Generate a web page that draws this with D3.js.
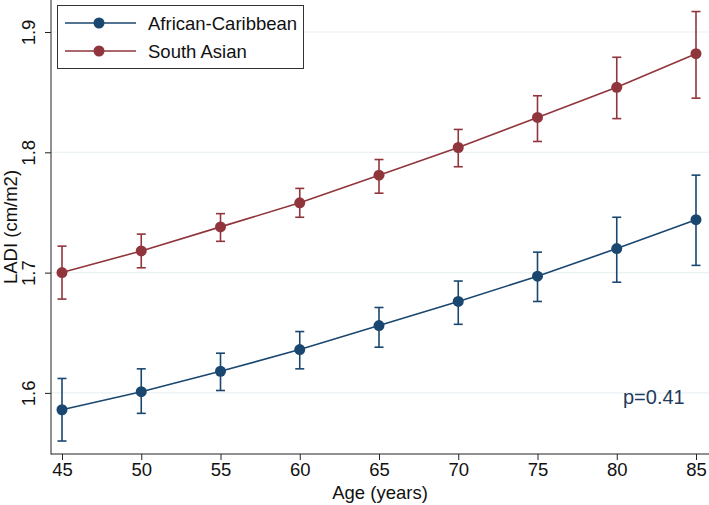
<!DOCTYPE html>
<html>
<head>
<meta charset="utf-8">
<script src="https://cdn.jsdelivr.net/npm/d3@7"></script>
<style>
  html, body { margin: 0; padding: 0; background: #fff; }
  svg { display: block; font-family: "Liberation Sans", Arial, Helvetica, sans-serif; }
</style>
</head>
<body>
<svg id="chart" width="709" height="505"></svg>
<script>
const ages = [45, 50, 55, 60, 65, 70, 75, 80, 85];
const seriesNames = ["African-Caribbean", "South Asian"];
const acMean = [1.586, 1.601, 1.618, 1.636, 1.656, 1.676, 1.697, 1.720, 1.744];
const acLow  = [1.560, 1.583, 1.602, 1.620, 1.638, 1.657, 1.676, 1.692, 1.706];
const acHigh = [1.612, 1.620, 1.633, 1.651, 1.671, 1.693, 1.717, 1.746, 1.781];
const saMean = [1.700, 1.718, 1.738, 1.758, 1.781, 1.804, 1.829, 1.854, 1.882];
const saLow  = [1.678, 1.704, 1.726, 1.746, 1.766, 1.788, 1.809, 1.828, 1.845];
const saHigh = [1.722, 1.732, 1.749, 1.770, 1.794, 1.819, 1.847, 1.879, 1.917];
const yTicks = [1.6, 1.7, 1.8, 1.9];
const xTicks = [45, 50, 55, 60, 65, 70, 75, 80, 85];
const colors = ["#1a476f", "#90353b"];
const annotation = "p=0.41";

const svg = d3.select("#chart");
const W = 709, H = 505;
const left = 51, bottom = 454;
const fs = 18.5;

const x = d3.scaleLinear().domain([45, 85]).range([62, 696]);
const y = d3.scaleLinear().domain([1.6, 1.9]).range([392.9, 32]);

// gridlines
svg.append("g").selectAll("line").data(yTicks).join("line")
  .attr("x1", left).attr("x2", W)
  .attr("y1", d => y(d)).attr("y2", d => y(d))
  .attr("stroke", "#eaf2f3").attr("stroke-width", 1.2);

// axes
const yAxis = svg.append("g").attr("transform", `translate(${left},0)`)
  .call(d3.axisLeft(y).tickValues(yTicks).tickSize(6).tickFormat(d3.format(".1f")));
yAxis.select(".domain").remove();
yAxis.selectAll(".tick line").attr("stroke", "#222");
yAxis.selectAll(".tick text")
  .attr("font-size", fs).attr("fill", "#111")
  .attr("text-anchor", "middle")
  .attr("x", null).attr("dy", null)
  .attr("transform", "translate(-16,0) rotate(-90)");

const xAxis = svg.append("g").attr("transform", `translate(0,${bottom})`)
  .call(d3.axisBottom(x).tickValues(xTicks).tickSize(6).tickPadding(3));
xAxis.select(".domain").remove();
xAxis.selectAll(".tick line").attr("stroke", "#222");
xAxis.selectAll(".tick text").attr("font-size", fs).attr("fill", "#111");

svg.append("line").attr("x1", left).attr("x2", left).attr("y1", 0).attr("y2", bottom + 0.5)
  .attr("stroke", "#222").attr("stroke-width", 1);
svg.append("line").attr("x1", left).attr("x2", W).attr("y1", bottom).attr("y2", bottom)
  .attr("stroke", "#222").attr("stroke-width", 1);

// axis titles
svg.append("text").attr("transform", `translate(17,${bottom / 2}) rotate(-90)`)
  .attr("text-anchor", "middle").attr("font-size", fs).attr("fill", "#111")
  .text("LADI (cm/m2)");
svg.append("text").attr("x", (left + W) / 2).attr("y", 499)
  .attr("text-anchor", "middle").attr("font-size", fs).attr("fill", "#111")
  .text("Age (years)");

// series
const series = [
  { name: seriesNames[0], mean: acMean, low: acLow, high: acHigh, color: colors[0] },
  { name: seriesNames[1], mean: saMean, low: saLow, high: saHigh, color: colors[1] }
];
const line = d3.line().x(d => x(d.age)).y(d => y(d.v));
series.forEach(s => {
  const pts = ages.map((a, i) => ({ age: a, v: s.mean[i], lo: s.low[i], hi: s.high[i] }));
  const g = svg.append("g");
  g.selectAll("line.eb").data(pts).join("line").attr("class", "eb")
    .attr("x1", d => x(d.age)).attr("x2", d => x(d.age))
    .attr("y1", d => y(d.lo)).attr("y2", d => y(d.hi))
    .attr("stroke", s.color).attr("stroke-width", 1.6);
  ["lo", "hi"].forEach(k => {
    g.selectAll("line.cap" + k).data(pts).join("line").attr("class", "cap" + k)
      .attr("x1", d => x(d.age) - 4.5).attr("x2", d => x(d.age) + 4.5)
      .attr("y1", d => y(d[k])).attr("y2", d => y(d[k]))
      .attr("stroke", s.color).attr("stroke-width", 1.6);
  });
  g.append("path").datum(pts).attr("d", line)
    .attr("fill", "none").attr("stroke", s.color).attr("stroke-width", 1.6);
  g.selectAll("circle").data(pts).join("circle")
    .attr("cx", d => x(d.age)).attr("cy", d => y(d.v)).attr("r", 5.5)
    .attr("fill", s.color);
});

// annotation
svg.append("text").attr("x", 623).attr("y", 404).attr("font-size", 20)
  .attr("fill", "#1f3a5c").text(annotation);

// legend
const lg = svg.append("g");
lg.append("rect").attr("x", 57.5).attr("y", 5.5).attr("width", 246).attr("height", 63)
  .attr("fill", "#fff").attr("stroke", "#333").attr("stroke-width", 1);
series.forEach((s, i) => {
  const cy = 23 + i * 28;
  lg.append("line").attr("x1", 65).attr("x2", 136).attr("y1", cy).attr("y2", cy)
    .attr("stroke", s.color).attr("stroke-width", 1.6);
  lg.append("circle").attr("cx", 99).attr("cy", cy).attr("r", 5.5).attr("fill", s.color);
  lg.append("text").attr("x", 148).attr("y", cy + 6.5).attr("font-size", fs)
    .attr("fill", "#111").text(s.name);
});
</script>
</body>
</html>
